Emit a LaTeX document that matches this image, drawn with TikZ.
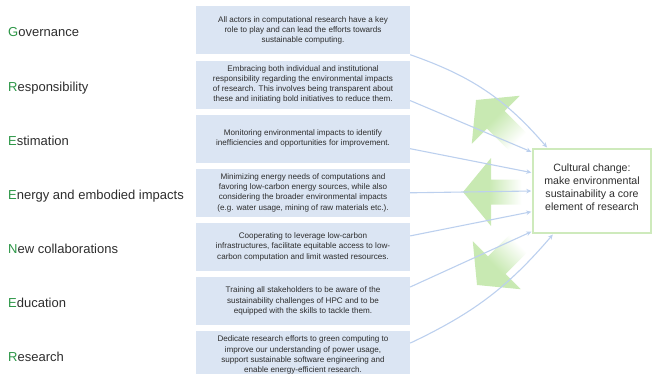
\documentclass[tikz,border=0pt]{standalone}
\usepackage{fontspec}
\setmainfont{Liberation Sans}
\usetikzlibrary{positioning, arrows.meta}

\definecolor{BoxBlue}{RGB}{219,229,243}
\definecolor{LinkBlue}{RGB}{188,208,238}
\definecolor{GoalGreen}{RGB}{206,234,188}
\definecolor{LeafGreen}{RGB}{200,233,178}
\definecolor{InitialGreen}{RGB}{44,150,70}
\definecolor{TextGray}{RGB}{45,45,45}

\pgfdeclarehorizontalshading{leaffade}{100bp}{color(0bp)=(LeafGreen); color(25bp)=(LeafGreen); color(44bp)=(LeafGreen); color(68bp)=(white); color(100bp)=(white)}

\tikzset{
  pillar/.style={anchor=base west, inner sep=0pt, yshift=-6.5pt,
    font=\fontsize{13}{15}\selectfont, text=TextGray},
  action/.style={fill=BoxBlue, minimum width=214pt, minimum height=48pt, inner sep=0pt,
    align=center, font=\fontsize{8.1}{10.2}\selectfont, text=TextGray},
  goal/.style={draw=GoalGreen, line width=1.5pt, fill=white, minimum width=118pt,
    minimum height=84pt, text depth=8pt, align=center, font=\fontsize{10.6}{13}\selectfont, text=TextGray},
  link/.style={draw=LinkBlue, line width=1.1pt, -{Stealth[length=5pt, width=4.5pt]}, shorten >=1pt},
}
\newcommand{\firstletter}[1]{\textcolor{InitialGreen}{#1}}

\begin{document}
\begin{tikzpicture}[x=1pt, y=-1pt, node distance=5.7pt]
\useasboundingbox (0,0) rectangle (652,374);

% big faded arrows spreading out of the goal
\foreach \tx/\ty/\rot in {476/100/-45, 463/192/0, 477/285/45}
  \shade[shading=leaffade, transform canvas={shift={(\tx,\ty)}, rotate=\rot}]
    (0,0) -- (28,34) -- (28,12.5) -- (68,12.5) -- (68,-12.5) -- (28,-12.5) -- (28,-34) -- cycle;

% column of actions
\node[action] (governance) at (303,30.5)
  {All actors in computational research have a key\\ role to play and can lead the efforts towards\\ sustainable computing.};
\node[action, below=of governance] (responsibility)
  {Embracing both individual and institutional\\ responsibility regarding the environmental impacts\\ of research. This involves being transparent about\\ these and initiating bold initiatives to reduce them.};
\node[action, below=of responsibility] (estimation)
  {Monitoring environmental impacts to identify\\ inefficiencies and opportunities for improvement.};
\node[action, below=of estimation] (energy)
  {Minimizing energy needs of computations and\\ favoring low-carbon energy sources, while also\\ considering the broader environmental impacts\\ (e.g. water usage, mining of raw materials etc.).};
\node[action, below=of energy] (collaboration)
  {Cooperating to leverage low-carbon\\ infrastructures, facilitate equitable access to low-\\ carbon computation and limit wasted resources.};
\node[action, below=of collaboration] (education)
  {Training all stakeholders to be aware of the\\ sustainability challenges of HPC and to be\\ equipped with the skills to tackle them.};
\node[action, below=of education] (research)
  {Dedicate research efforts to green computing to\\ improve our understanding of power usage,\\ support sustainable software engineering and\\ enable energy-efficient research.};

% pillar names
\coordinate (margin) at (8,0);
\node[pillar] (governance-name) at (governance -| margin) {\firstletter{G}overnance};
\node[pillar] (responsibility-name) at (responsibility -| margin) {\firstletter{R}esponsibility};
\node[pillar] (estimation-name) at (estimation -| margin) {\firstletter{E}stimation};
\node[pillar] (energy-name) at (energy -| margin) {\firstletter{E}nergy and embodied impacts};
\node[pillar] (collaboration-name) at (collaboration -| margin) {\firstletter{N}ew collaborations};
\node[pillar] (education-name) at (education -| margin) {\firstletter{E}ducation};
\node[pillar] (research-name) at (research -| margin) {\firstletter{R}esearch};

\node[goal] (goal) at (592,191)
  {Cultural change:\\ make environmental\\ sustainability a core\\ element of research};

% links into the goal
\draw[link] (governance.south east) to[bend left=15] (goal.136);
\draw[link] ([yshift=-16pt]responsibility.east) -- (goal.147);
\draw[link] ([yshift=-10pt]estimation.east) -- (goal.163);
\draw[link] (energy.east) -- (goal.west);
\draw[link] ([yshift=11pt]collaboration.east) -- (goal.199);
\draw[link] ([yshift=14pt]education.east) -- (goal.214);
\draw[link] ([yshift=12pt]research.east) to[bend right=12] (goal.228);

\end{tikzpicture}
\end{document}
